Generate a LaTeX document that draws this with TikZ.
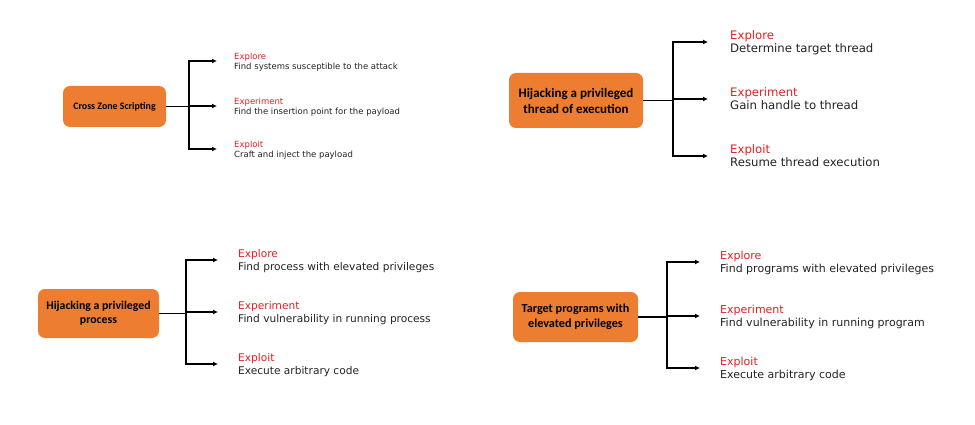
\documentclass[tikz,border=0pt]{standalone}
\usepackage{fontspec}
\setmainfont{DejaVu Sans}
\newfontfamily\boxfont{Carlito}
\usetikzlibrary{arrows.meta}
\definecolor{boxorange}{HTML}{ED7D31}
\definecolor{stepred}{HTML}{E0201F}
\definecolor{desctext}{HTML}{222222}
\tikzset{
  attackbox/.style={fill=boxorange, rounded corners=7pt, align=center, inner sep=0pt, font=\boxfont\bfseries},
  branch/.style={line width=1.4pt, -{Latex[length=5pt,width=5pt]}, shorten >=#1},
  branch/.default=20pt,
  stage/.style={anchor=west, align=left, inner sep=0pt, text depth=0pt, text=desctext}
}
\newcommand{\stagetext}[2]{\textcolor{stepred}{#1}\\#2}
\begin{document}
\begin{tikzpicture}[x=1pt,y=-1pt]
  \useasboundingbox (0,0) rectangle (975,425);
  % Draw the cross zone scripting panel
  \node[attackbox, minimum width=103pt, minimum height=41pt, font=\boxfont\bfseries\fontsize{9.9}{11}\selectfont] (czs) at (114.5,106.5) {Cross Zone Scripting};
  \coordinate (czssplit) at (189,106.5);
  \node[stage, font=\fontsize{8.5}{10}\selectfont] (czs1) at (234,61) {\stagetext{Explore}{Find systems susceptible to the attack}};
  \node[stage, font=\fontsize{8.5}{10}\selectfont] (czs2) at (234,106) {\stagetext{Experiment}{Find the insertion point for the payload}};
  \node[stage, font=\fontsize{8.5}{10}\selectfont] (czs3) at (234,149) {\stagetext{Exploit}{Craft and inject the payload}};
  \draw[line width=1.4pt] (czs.east) -- (czssplit);
  \draw[branch=17pt] (czssplit) |- (czs1.west);
  \draw[branch=17pt] (czssplit) |- (czs2.west);
  \draw[branch=17pt] (czssplit) |- (czs3.west);
  % Draw the thread hijacking panel
  \node[attackbox, minimum width=134pt, minimum height=55pt, font=\boxfont\bfseries\fontsize{13}{16}\selectfont] (thr) at (576,100.5) {Hijacking a privileged\\thread of execution};
  \coordinate (thrsplit) at (673,100.5);
  \node[stage, font=\fontsize{11.7}{13}\selectfont] (thr1) at (730,42) {\stagetext{Explore}{Determine target thread}};
  \node[stage, font=\fontsize{11.7}{13}\selectfont] (thr2) at (730,99) {\stagetext{Experiment}{Gain handle to thread}};
  \node[stage, font=\fontsize{11.7}{13}\selectfont] (thr3) at (730,156) {\stagetext{Exploit}{Resume thread execution}};
  \draw[line width=1.4pt] (thr.east) -- (thrsplit);
  \draw[branch=22pt] (thrsplit) |- (thr1.west);
  \draw[branch=22pt] (thrsplit) |- (thr2.west);
  \draw[branch=22pt] (thrsplit) |- (thr3.west);
  % Draw the process hijacking panel
  \node[attackbox, minimum width=121pt, minimum height=49pt, font=\boxfont\bfseries\fontsize{11.8}{14.5}\selectfont] (prc) at (98.5,313.5) {Hijacking a privileged\\process};
  \coordinate (prcsplit) at (186,313.5);
  \node[stage, font=\fontsize{10.6}{12.5}\selectfont] (prc1) at (238,260) {\stagetext{Explore}{Find process with elevated privileges}};
  \node[stage, font=\fontsize{10.6}{12.5}\selectfont] (prc2) at (238,312) {\stagetext{Experiment}{Find vulnerability in running process}};
  \node[stage, font=\fontsize{10.6}{12.5}\selectfont] (prc3) at (238,364) {\stagetext{Exploit}{Execute arbitrary code}};
  \draw[line width=1.4pt] (prc.east) -- (prcsplit);
  \draw[branch] (prcsplit) |- (prc1.west);
  \draw[branch] (prcsplit) |- (prc2.west);
  \draw[branch] (prcsplit) |- (prc3.west);
  % Draw the elevated programs panel
  \node[attackbox, minimum width=125pt, minimum height=50pt, font=\boxfont\bfseries\fontsize{12.2}{15}\selectfont] (prg) at (575.5,317) {Target programs with\\elevated privileges};
  \coordinate (prgsplit) at (667,317);
  \node[stage, font=\fontsize{11}{13}\selectfont] (prg1) at (720,262) {\stagetext{Explore}{Find programs with elevated privileges}};
  \node[stage, font=\fontsize{11}{13}\selectfont] (prg2) at (720,316) {\stagetext{Experiment}{Find vulnerability in running program}};
  \node[stage, font=\fontsize{11}{13}\selectfont] (prg3) at (720,368) {\stagetext{Exploit}{Execute arbitrary code}};
  \draw[line width=1.4pt] (prg.east) -- (prgsplit);
  \draw[branch] (prgsplit) |- (prg1.west);
  \draw[branch] (prgsplit) |- (prg2.west);
  \draw[branch] (prgsplit) |- (prg3.west);
\end{tikzpicture}
\end{document}
